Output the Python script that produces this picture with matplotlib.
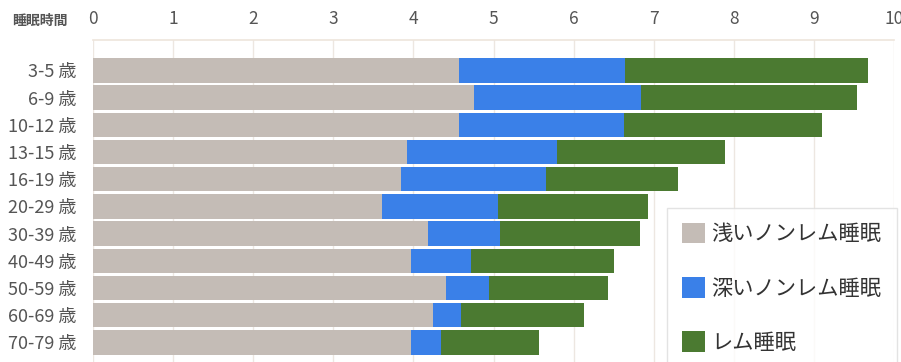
import matplotlib
matplotlib.use("Agg")
import matplotlib.pyplot as plt
from matplotlib.patches import Patch
import numpy as np

plt.rcParams['font.family'] = ['Noto Sans CJK JP', 'DejaVu Sans']

ages = ["3-5 歳", "6-9 歳", "10-12 歳", "13-15 歳", "16-19 歳", "20-29 歳",
        "30-39 歳", "40-49 歳", "50-59 歳", "60-69 歳", "70-79 歳"]
light_nrem = [4.57, 4.76, 4.57, 3.92, 3.85, 3.61, 4.18, 3.97, 4.41, 4.24, 3.97]
deep_nrem = [2.07, 2.08, 2.06, 1.87, 1.81, 1.45, 0.90, 0.75, 0.53, 0.35, 0.37]
rem = [3.04, 2.70, 2.47, 2.10, 1.64, 1.87, 1.75, 1.78, 1.49, 1.54, 1.23]
series_names = ["浅いノンレム睡眠", "深いノンレム睡眠", "レム睡眠"]
x_ticks = list(range(0, 11))
x_label = "睡眠時間"

colors = ["#c4bcb6", "#3a80e8", "#4b7a31"]
text_color = "#555555"

fig = plt.figure(figsize=(9.01, 3.62), dpi=100)
W, H = 901, 362
x0, x1 = 93, 894
ytop, ybot = 40, 362
ax = fig.add_axes([x0 / W, 1 - ybot / H, (x1 - x0) / W, (ybot - ytop) / H])

y = np.arange(len(ages))
left = np.zeros(len(ages))
for vals, c in zip([light_nrem, deep_nrem, rem], colors):
    ax.barh(y, vals, left=left, height=0.9, color=c, edgecolor='none', zorder=3)
    left = left + np.array(vals)

ax.set_xlim(0, 10)
ax.set_ylim(10.72, -1.12)
ax.set_yticks(y)
ax.set_yticklabels(ages, fontsize=13, color=text_color)
ax.set_xticks(x_ticks)
ax.set_xticklabels([str(t) for t in x_ticks], fontsize=12.5, color=text_color)
ax.xaxis.tick_top()
ax.tick_params(axis='x', length=0, pad=9)
ax.tick_params(axis='y', length=0, pad=12)
ax.grid(axis='x', color='#ede7e1', linewidth=1, zorder=0)
for s in ['left', 'right', 'bottom']:
    ax.spines[s].set_visible(False)
ax.spines['top'].set_color('#ede5dc')
ax.spines['top'].set_linewidth(1.2)

fig.text(12 / W, 1 - 21 / H, x_label, fontsize=10, color=text_color,
         fontweight='bold', va='center', ha='left')

handles = [Patch(facecolor=c, edgecolor='none') for c in colors]
leg = fig.legend(handles, series_names, loc='upper left',
                 bbox_to_anchor=(667 / W, 1 - 208 / H), borderaxespad=0,
                 fontsize=15.3, handlelength=1.1, handleheight=1.1,
                 handletextpad=0.3, labelspacing=1.5, borderpad=0.7,
                 frameon=True, fancybox=False)
leg.get_frame().set_edgecolor('#dddddd')
leg.get_frame().set_linewidth(1)
for t in leg.get_texts():
    t.set_color('#333333')

fig.savefig("out.png", dpi=100)
